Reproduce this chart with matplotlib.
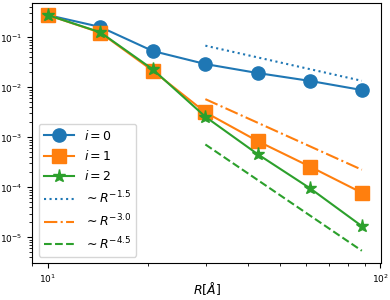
import matplotlib
matplotlib.use('Agg')
import matplotlib.pyplot as plt

R = [10.0, 14.4, 20.7, 29.8, 42.8, 61.6, 88.0]

err0 = [0.279, 0.161, 0.0532, 0.0292, 0.0193, 0.0134, 0.00883]
err1 = [0.279, 0.124, 0.0215, 0.00316, 0.00084, 0.000258, 0.000078]
err2 = [0.279, 0.126, 0.0229, 0.00258, 0.00046, 0.000095, 0.0000168]

# reference slopes, end points
ref_R = [29.8, 88.0]
ref15 = [0.068, 0.0135]
ref30 = [0.0058, 0.000225]
ref45 = [0.00072, 0.0000054]

plt.rcParams['font.size'] = 6.5

fig, ax = plt.subplots(figsize=(3.9, 3.0), dpi=100)
fig.subplots_adjust(left=0.083, right=0.977, top=0.99, bottom=0.123)

ax.loglog(R, err0, 'o-', color='C0', lw=1.5, ms=9.5, label=r'$i = 0$')
ax.loglog(R, err1, 's-', color='C1', lw=1.5, ms=9.5, label=r'$i = 1$')
ax.loglog(R, err2, '*-', color='C2', lw=1.5, ms=9.5, label=r'$i = 2$')
ax.loglog(ref_R, ref15, ':', color='C0', lw=1.5, label=r'$\sim R^{-1.5}$')
ax.loglog(ref_R, ref30, '-.', color='C1', lw=1.5, label=r'$\sim R^{-3.0}$')
ax.loglog(ref_R, ref45, '--', color='C2', lw=1.5, label=r'$\sim R^{-4.5}$')

ax.set_xlim(9.0, 100.5)
ax.set_ylim(3.06e-6, 0.485)
ax.set_xticks([10, 100])
ax.set_xlabel(r'$R[\AA]$', fontsize=9)
ax.xaxis.set_label_coords(0.5, -0.065)
ax.legend(loc='lower left', fontsize=9, handlelength=2.4)

fig.savefig('out.png')
